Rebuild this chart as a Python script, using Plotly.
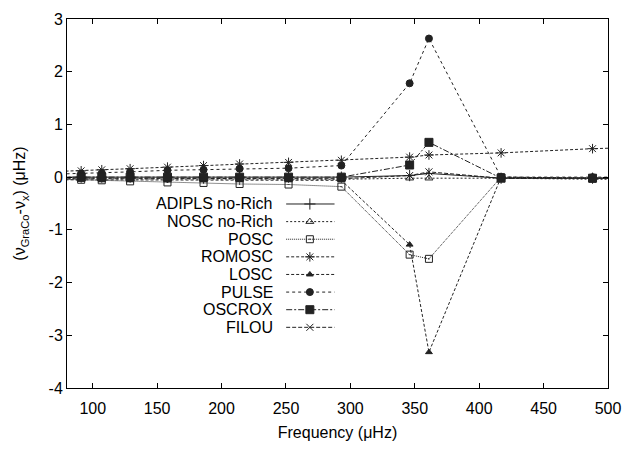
import plotly.graph_objects as go

freq = [75, 91, 107, 129, 158, 186, 214, 252, 293, 346, 361, 417, 488, 530]

series = {
    "ADIPLS no-Rich": [0.00, 0.00, 0.00, 0.00, 0.00, 0.00, 0.00, 0.00, 0.00, 0.03, 0.07, -0.02, -0.02, -0.02],
    "NOSC no-Rich":   [-0.03, -0.03, -0.03, -0.04, -0.04, -0.04, -0.04, -0.04, -0.04, -0.02, -0.02, -0.02, -0.04, -0.04],
    "POSC":           [-0.04, -0.05, -0.06, -0.08, -0.10, -0.11, -0.13, -0.14, -0.18, -1.47, -1.55, 0.00, -0.03, -0.03],
    "ROMOSC":         [0.11, 0.12, 0.14, 0.16, 0.19, 0.22, 0.25, 0.28, 0.32, 0.38, 0.42, 0.46, 0.54, 0.57],
    "LOSC":           [-0.05, -0.05, -0.06, -0.06, -0.06, -0.06, -0.06, -0.06, -0.06, -1.28, -3.32, 0.00, -0.03, -0.03],
    "PULSE":          [0.06, 0.07, 0.08, 0.10, 0.13, 0.14, 0.16, 0.17, 0.22, 1.78, 2.63, 0.00, 0.00, 0.00],
    "OSCROX":         [0.00, 0.00, 0.00, 0.00, 0.00, 0.00, 0.00, 0.00, 0.00, 0.23, 0.66, -0.02, -0.02, -0.02],
    "FILOU":          [-0.02, -0.02, -0.03, -0.03, -0.03, -0.03, -0.03, -0.03, -0.03, 0.03, 0.10, -0.02, -0.02, -0.02],
}

styles = {
    "ADIPLS no-Rich": dict(dash="solid", symbol="cross-thin-open", size=8),
    "NOSC no-Rich":   dict(dash="2px,2px", symbol="triangle-up-open", size=7),
    "POSC":           dict(dash="1px,1px", symbol="square-open-dot", size=7),
    "ROMOSC":         dict(dash="3px,2px", symbol="asterisk-open", size=8),
    "LOSC":           dict(dash="3px,2px", symbol="triangle-up", size=6),
    "PULSE":          dict(dash="3px,3px", symbol="circle", size=7),
    "OSCROX":         dict(dash="6px,2px,2px,2px", symbol="square", size=8),
    "FILOU":          dict(dash="4px,2px", symbol="x-thin-open", size=7),
}

xticks = [100, 150, 200, 250, 300, 350, 400, 450, 500]
yticks = [-4, -3, -2, -1, 0, 1, 2, 3]
yticklabels = ["-4", "-3", "-2", "-1", "0", "1", "2", "3"]

fig = go.Figure()
lc = "#222222"
for name, vals in series.items():
    st = styles[name]
    fig.add_trace(go.Scatter(
        x=freq, y=vals, mode="lines+markers", name=name, showlegend=False,
        line=dict(color=lc, width=1, dash=st["dash"]),
        marker=dict(symbol=st["symbol"], size=st["size"], color=lc,
                    line=dict(color=lc, width=1)),
        cliponaxis=True,
    ))

# manual gnuplot-style legend (text right-aligned, sample on the right)
L, R, T, B = 67, 17, 11, 62
W, H = 632 - L - R, 450 - T - B
def px2x(p):
    return (p - L) / W
def py2y(p):
    return (450 - B - p) / H

y0 = 200
dy = 18
annotations = []
for i, name in enumerate(series.keys()):
    st = styles[name]
    yp = py2y(y0 + i * dy)
    annotations.append(dict(x=px2x(278), y=yp, xref="paper", yref="paper",
                            text=name, showarrow=False, xanchor="right", yanchor="middle",
                            font=dict(family="Liberation Sans, Arial", size=16, color="black")))
    fig.add_trace(go.Scatter(
        x=[px2x(289), px2x(338)], y=[yp, yp], xaxis="x2", yaxis="y2", mode="lines",
        line=dict(color=lc, width=1, dash=st["dash"]), showlegend=False, hoverinfo="skip"))
    fig.add_trace(go.Scatter(
        x=[px2x(313)], y=[yp], xaxis="x2", yaxis="y2", mode="markers",
        marker=dict(symbol=st["symbol"], size=st["size"], color=lc, line=dict(color=lc, width=1)),
        showlegend=False, hoverinfo="skip"))

axis_font = dict(family="Liberation Sans, Arial", size=16, color="black")
fig.update_layout(
    width=632, height=450,
    margin=dict(l=L, r=R, t=T, b=B),
    paper_bgcolor="white", plot_bgcolor="white",
    showlegend=False,
    font=axis_font,
    annotations=annotations,
    xaxis=dict(range=[80, 500], tickvals=xticks, ticks="inside", ticklen=5, tickcolor="black",
               showline=True, linecolor="black", linewidth=1, mirror="ticks", showgrid=False,
               zeroline=False, tickfont=axis_font, ticklabelstandoff=6,
               title=dict(text="Frequency (μHz)", font=axis_font, standoff=10)),
    yaxis=dict(range=[-4, 3], tickvals=yticks, ticktext=yticklabels, ticks="inside", ticklen=5,
               tickcolor="black",
               showline=True, linecolor="black", linewidth=1, mirror="ticks", showgrid=False,
               zeroline=False, tickfont=axis_font,
               title=dict(text="(ν<sub>GraCo</sub>-ν<sub>x</sub>) (μHz)", font=axis_font, standoff=18)),
    xaxis2=dict(range=[0, 1], overlaying="x", visible=False, fixedrange=True),
    yaxis2=dict(range=[0, 1], overlaying="y", visible=False, fixedrange=True),
)

fig.write_html("out.html")
